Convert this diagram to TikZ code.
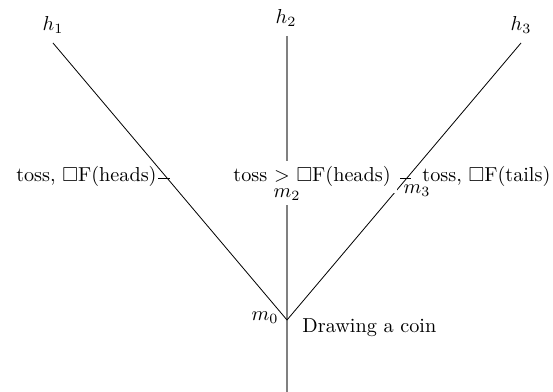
\documentclass[tikz,border=0pt]{standalone}
\usepackage{amssymb}
\begin{document}
\begin{tikzpicture}[x=0.495pt,y=-0.495pt,
  branch/.style={draw=black,line width=0.4pt},
  stem/.style={draw=gray,line width=0.6pt},
  lbl/.style={inner sep=0pt},
  tick/.style={draw=black,line width=0.4pt}]
\useasboundingbox (0,0) rectangle (553,392);
% points
\coordinate (m0) at (287,320);
\coordinate (t1) at (53,43);
\coordinate (t2) at (287,36);
\coordinate (t3) at (521,43);
\coordinate (bot) at (287,392);
% connectors
\draw[stem] (t2) -- (bot);
\draw[branch] (t1) -- (m0);
\draw[branch] (t3) -- (m0);
% leaf labels
\node (h1) at (53,25) {$h_1$};
\node (h2) at (286,18) {$h_2$};
\node (h3) at (521,25) {$h_3$};
% edge labels
\node[lbl,anchor=base east] (l1) at (157,182) {toss, $\Box$F(heads)};
\coordinate (d1a) at (158,178);
\coordinate (d1b) at (170,178);
\draw[tick] (d1a) -- (d1b);
\node[fill=white,anchor=base west,inner sep=3pt] (l2) at (227,182) {toss $>$ $\Box$F(heads)};
\node[lbl,anchor=base west] (l3) at (422,182) {toss, $\Box$F(tails)};
\coordinate (d3a) at (400,178);
\coordinate (d3b) at (411,178);
\draw[tick] (d3a) -- (d3b);
% node names
\node[fill=white,inner sep=2pt] (m2) at (287,195) {$m_2$};
\node[lbl] (m3) at (417,191) {$m_3$};
\node[lbl] (m0l) at (265,318) {$m_0$};
\node[lbl,anchor=base west] (coin) at (302,333) {Drawing a coin};
\end{tikzpicture}
\end{document}
